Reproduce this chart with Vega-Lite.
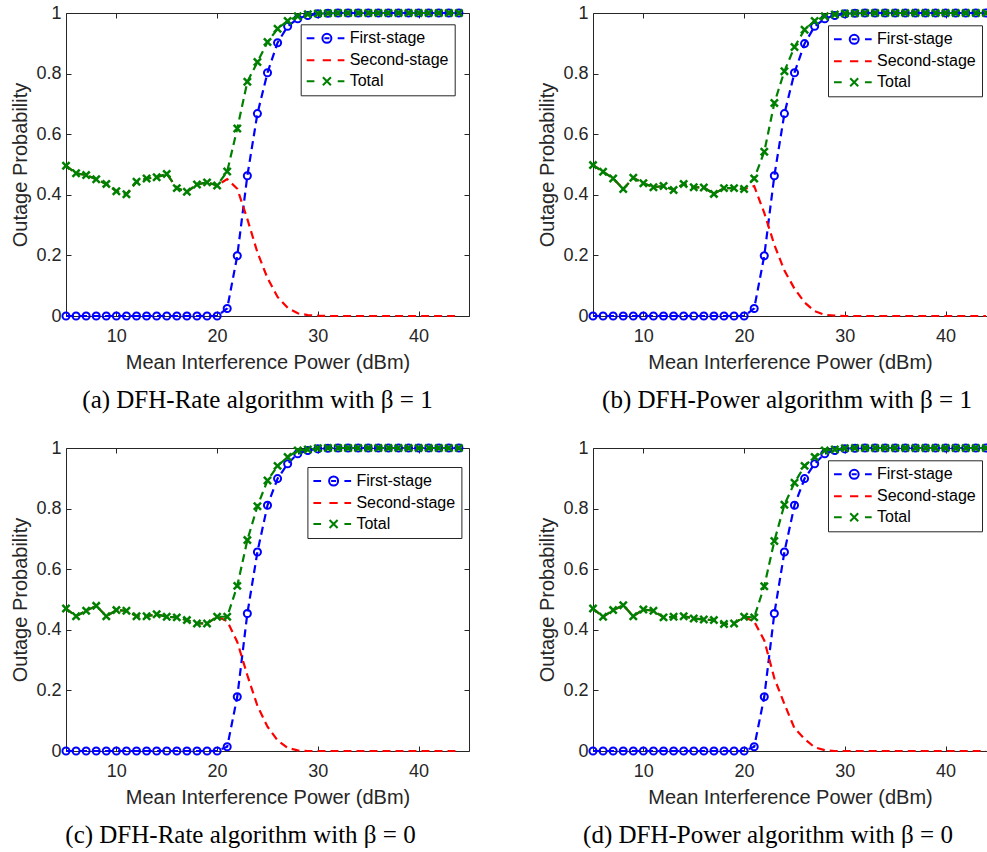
{
  "$schema": "https://vega.github.io/schema/vega-lite/v6.json",
  "padding": {"left": 10, "top": 4, "right": 0, "bottom": 0},
  "background": "white",
  "data": {"values": [
    {"p":"a","x":5,"First-stage":0,"Second-stage":0.496,"Total":0.496},
    {"p":"a","x":6,"First-stage":0,"Second-stage":0.471,"Total":0.471},
    {"p":"a","x":7,"First-stage":0,"Second-stage":0.465,"Total":0.465},
    {"p":"a","x":8,"First-stage":0,"Second-stage":0.451,"Total":0.451},
    {"p":"a","x":9,"First-stage":0,"Second-stage":0.436,"Total":0.436},
    {"p":"a","x":10,"First-stage":0,"Second-stage":0.412,"Total":0.412},
    {"p":"a","x":11,"First-stage":0,"Second-stage":0.402,"Total":0.402},
    {"p":"a","x":12,"First-stage":0,"Second-stage":0.443,"Total":0.443},
    {"p":"a","x":13,"First-stage":0,"Second-stage":0.454,"Total":0.454},
    {"p":"a","x":14,"First-stage":0,"Second-stage":0.458,"Total":0.458},
    {"p":"a","x":15,"First-stage":0,"Second-stage":0.469,"Total":0.469},
    {"p":"a","x":16,"First-stage":0,"Second-stage":0.422,"Total":0.422},
    {"p":"a","x":17,"First-stage":0,"Second-stage":0.41,"Total":0.41},
    {"p":"a","x":18,"First-stage":0,"Second-stage":0.434,"Total":0.434},
    {"p":"a","x":19,"First-stage":0,"Second-stage":0.441,"Total":0.441},
    {"p":"a","x":20,"First-stage":0,"Second-stage":0.431,"Total":0.431},
    {"p":"a","x":21,"First-stage":0.025,"Second-stage":0.452,"Total":0.477},
    {"p":"a","x":22,"First-stage":0.199,"Second-stage":0.42,"Total":0.619},
    {"p":"a","x":23,"First-stage":0.463,"Second-stage":0.32,"Total":0.773},
    {"p":"a","x":24,"First-stage":0.668,"Second-stage":0.21,"Total":0.838},
    {"p":"a","x":25,"First-stage":0.803,"Second-stage":0.125,"Total":0.904},
    {"p":"a","x":26,"First-stage":0.902,"Second-stage":0.063,"Total":0.948},
    {"p":"a","x":27,"First-stage":0.956,"Second-stage":0.027,"Total":0.974},
    {"p":"a","x":28,"First-stage":0.981,"Second-stage":0.009,"Total":0.989},
    {"p":"a","x":29,"First-stage":0.992,"Second-stage":0.003,"Total":0.996},
    {"p":"a","x":30,"First-stage":0.997,"Second-stage":0.001,"Total":0.998},
    {"p":"a","x":31,"First-stage":0.999,"Second-stage":0,"Total":0.999},
    {"p":"a","x":32,"First-stage":1,"Second-stage":0,"Total":1},
    {"p":"a","x":33,"First-stage":1,"Second-stage":0,"Total":1},
    {"p":"a","x":34,"First-stage":1,"Second-stage":0,"Total":1},
    {"p":"a","x":35,"First-stage":1,"Second-stage":0,"Total":1},
    {"p":"a","x":36,"First-stage":1,"Second-stage":0,"Total":1},
    {"p":"a","x":37,"First-stage":1,"Second-stage":0,"Total":1},
    {"p":"a","x":38,"First-stage":1,"Second-stage":0,"Total":1},
    {"p":"a","x":39,"First-stage":1,"Second-stage":0,"Total":1},
    {"p":"a","x":40,"First-stage":1,"Second-stage":0,"Total":1},
    {"p":"a","x":41,"First-stage":1,"Second-stage":0,"Total":1},
    {"p":"a","x":42,"First-stage":1,"Second-stage":0,"Total":1},
    {"p":"a","x":43,"First-stage":1,"Second-stage":0,"Total":1},
    {"p":"a","x":44,"First-stage":1,"Second-stage":0,"Total":1},
    {"p":"b","x":5,"First-stage":0,"Second-stage":0.498,"Total":0.498},
    {"p":"b","x":6,"First-stage":0,"Second-stage":0.476,"Total":0.476},
    {"p":"b","x":7,"First-stage":0,"Second-stage":0.454,"Total":0.454},
    {"p":"b","x":8,"First-stage":0,"Second-stage":0.419,"Total":0.419},
    {"p":"b","x":9,"First-stage":0,"Second-stage":0.456,"Total":0.456},
    {"p":"b","x":10,"First-stage":0,"Second-stage":0.438,"Total":0.438},
    {"p":"b","x":11,"First-stage":0,"Second-stage":0.425,"Total":0.425},
    {"p":"b","x":12,"First-stage":0,"Second-stage":0.429,"Total":0.429},
    {"p":"b","x":13,"First-stage":0,"Second-stage":0.416,"Total":0.416},
    {"p":"b","x":14,"First-stage":0,"Second-stage":0.436,"Total":0.436},
    {"p":"b","x":15,"First-stage":0,"Second-stage":0.425,"Total":0.425},
    {"p":"b","x":16,"First-stage":0,"Second-stage":0.424,"Total":0.424},
    {"p":"b","x":17,"First-stage":0,"Second-stage":0.403,"Total":0.403},
    {"p":"b","x":18,"First-stage":0,"Second-stage":0.422,"Total":0.422},
    {"p":"b","x":19,"First-stage":0,"Second-stage":0.422,"Total":0.422},
    {"p":"b","x":20,"First-stage":0,"Second-stage":0.419,"Total":0.419},
    {"p":"b","x":21,"First-stage":0.025,"Second-stage":0.429,"Total":0.454},
    {"p":"b","x":22,"First-stage":0.199,"Second-stage":0.34,"Total":0.542},
    {"p":"b","x":23,"First-stage":0.463,"Second-stage":0.235,"Total":0.703},
    {"p":"b","x":24,"First-stage":0.668,"Second-stage":0.15,"Total":0.808},
    {"p":"b","x":25,"First-stage":0.803,"Second-stage":0.09,"Total":0.888},
    {"p":"b","x":26,"First-stage":0.899,"Second-stage":0.045,"Total":0.945},
    {"p":"b","x":27,"First-stage":0.956,"Second-stage":0.016,"Total":0.974},
    {"p":"b","x":28,"First-stage":0.981,"Second-stage":0.004,"Total":0.989},
    {"p":"b","x":29,"First-stage":0.992,"Second-stage":0.001,"Total":0.995},
    {"p":"b","x":30,"First-stage":0.997,"Second-stage":0,"Total":0.998},
    {"p":"b","x":31,"First-stage":0.999,"Second-stage":0,"Total":0.999},
    {"p":"b","x":32,"First-stage":1,"Second-stage":0,"Total":1},
    {"p":"b","x":33,"First-stage":1,"Second-stage":0,"Total":1},
    {"p":"b","x":34,"First-stage":1,"Second-stage":0,"Total":1},
    {"p":"b","x":35,"First-stage":1,"Second-stage":0,"Total":1},
    {"p":"b","x":36,"First-stage":1,"Second-stage":0,"Total":1},
    {"p":"b","x":37,"First-stage":1,"Second-stage":0,"Total":1},
    {"p":"b","x":38,"First-stage":1,"Second-stage":0,"Total":1},
    {"p":"b","x":39,"First-stage":1,"Second-stage":0,"Total":1},
    {"p":"b","x":40,"First-stage":1,"Second-stage":0,"Total":1},
    {"p":"b","x":41,"First-stage":1,"Second-stage":0,"Total":1},
    {"p":"b","x":42,"First-stage":1,"Second-stage":0,"Total":1},
    {"p":"b","x":43,"First-stage":1,"Second-stage":0,"Total":1},
    {"p":"b","x":44,"First-stage":1,"Second-stage":0,"Total":1},
    {"p":"c","x":5,"First-stage":0,"Second-stage":0.47,"Total":0.47},
    {"p":"c","x":6,"First-stage":0,"Second-stage":0.445,"Total":0.445},
    {"p":"c","x":7,"First-stage":0,"Second-stage":0.463,"Total":0.463},
    {"p":"c","x":8,"First-stage":0,"Second-stage":0.479,"Total":0.479},
    {"p":"c","x":9,"First-stage":0,"Second-stage":0.445,"Total":0.445},
    {"p":"c","x":10,"First-stage":0,"Second-stage":0.465,"Total":0.465},
    {"p":"c","x":11,"First-stage":0,"Second-stage":0.463,"Total":0.463},
    {"p":"c","x":12,"First-stage":0,"Second-stage":0.445,"Total":0.445},
    {"p":"c","x":13,"First-stage":0,"Second-stage":0.445,"Total":0.445},
    {"p":"c","x":14,"First-stage":0,"Second-stage":0.451,"Total":0.451},
    {"p":"c","x":15,"First-stage":0,"Second-stage":0.443,"Total":0.443},
    {"p":"c","x":16,"First-stage":0,"Second-stage":0.441,"Total":0.441},
    {"p":"c","x":17,"First-stage":0,"Second-stage":0.432,"Total":0.432},
    {"p":"c","x":18,"First-stage":0,"Second-stage":0.421,"Total":0.421},
    {"p":"c","x":19,"First-stage":0,"Second-stage":0.421,"Total":0.421},
    {"p":"c","x":20,"First-stage":0,"Second-stage":0.443,"Total":0.443},
    {"p":"c","x":21,"First-stage":0.014,"Second-stage":0.429,"Total":0.443},
    {"p":"c","x":22,"First-stage":0.179,"Second-stage":0.36,"Total":0.545},
    {"p":"c","x":23,"First-stage":0.454,"Second-stage":0.25,"Total":0.696},
    {"p":"c","x":24,"First-stage":0.657,"Second-stage":0.149,"Total":0.808},
    {"p":"c","x":25,"First-stage":0.811,"Second-stage":0.08,"Total":0.893},
    {"p":"c","x":26,"First-stage":0.899,"Second-stage":0.035,"Total":0.941},
    {"p":"c","x":27,"First-stage":0.948,"Second-stage":0.01,"Total":0.97},
    {"p":"c","x":28,"First-stage":0.981,"Second-stage":0.002,"Total":0.992},
    {"p":"c","x":29,"First-stage":0.992,"Second-stage":0,"Total":0.995},
    {"p":"c","x":30,"First-stage":0.997,"Second-stage":0,"Total":0.999},
    {"p":"c","x":31,"First-stage":0.999,"Second-stage":0,"Total":1},
    {"p":"c","x":32,"First-stage":1,"Second-stage":0,"Total":1},
    {"p":"c","x":33,"First-stage":1,"Second-stage":0,"Total":1},
    {"p":"c","x":34,"First-stage":1,"Second-stage":0,"Total":1},
    {"p":"c","x":35,"First-stage":1,"Second-stage":0,"Total":1},
    {"p":"c","x":36,"First-stage":1,"Second-stage":0,"Total":1},
    {"p":"c","x":37,"First-stage":1,"Second-stage":0,"Total":1},
    {"p":"c","x":38,"First-stage":1,"Second-stage":0,"Total":1},
    {"p":"c","x":39,"First-stage":1,"Second-stage":0,"Total":1},
    {"p":"c","x":40,"First-stage":1,"Second-stage":0,"Total":1},
    {"p":"c","x":41,"First-stage":1,"Second-stage":0,"Total":1},
    {"p":"c","x":42,"First-stage":1,"Second-stage":0,"Total":1},
    {"p":"c","x":43,"First-stage":1,"Second-stage":0,"Total":1},
    {"p":"c","x":44,"First-stage":1,"Second-stage":0,"Total":1},
    {"p":"d","x":5,"First-stage":0,"Second-stage":0.47,"Total":0.47},
    {"p":"d","x":6,"First-stage":0,"Second-stage":0.443,"Total":0.443},
    {"p":"d","x":7,"First-stage":0,"Second-stage":0.465,"Total":0.465},
    {"p":"d","x":8,"First-stage":0,"Second-stage":0.481,"Total":0.481},
    {"p":"d","x":9,"First-stage":0,"Second-stage":0.445,"Total":0.445},
    {"p":"d","x":10,"First-stage":0,"Second-stage":0.467,"Total":0.467},
    {"p":"d","x":11,"First-stage":0,"Second-stage":0.463,"Total":0.463},
    {"p":"d","x":12,"First-stage":0,"Second-stage":0.441,"Total":0.441},
    {"p":"d","x":13,"First-stage":0,"Second-stage":0.443,"Total":0.443},
    {"p":"d","x":14,"First-stage":0,"Second-stage":0.445,"Total":0.445},
    {"p":"d","x":15,"First-stage":0,"Second-stage":0.437,"Total":0.437},
    {"p":"d","x":16,"First-stage":0,"Second-stage":0.434,"Total":0.434},
    {"p":"d","x":17,"First-stage":0,"Second-stage":0.432,"Total":0.432},
    {"p":"d","x":18,"First-stage":0,"Second-stage":0.419,"Total":0.419},
    {"p":"d","x":19,"First-stage":0,"Second-stage":0.421,"Total":0.421},
    {"p":"d","x":20,"First-stage":0,"Second-stage":0.443,"Total":0.443},
    {"p":"d","x":21,"First-stage":0.014,"Second-stage":0.427,"Total":0.441},
    {"p":"d","x":22,"First-stage":0.179,"Second-stage":0.365,"Total":0.544},
    {"p":"d","x":23,"First-stage":0.454,"Second-stage":0.24,"Total":0.693},
    {"p":"d","x":24,"First-stage":0.657,"Second-stage":0.155,"Total":0.813},
    {"p":"d","x":25,"First-stage":0.811,"Second-stage":0.075,"Total":0.885},
    {"p":"d","x":26,"First-stage":0.899,"Second-stage":0.04,"Total":0.941},
    {"p":"d","x":27,"First-stage":0.948,"Second-stage":0.012,"Total":0.97},
    {"p":"d","x":28,"First-stage":0.981,"Second-stage":0.003,"Total":0.992},
    {"p":"d","x":29,"First-stage":0.992,"Second-stage":0,"Total":0.995},
    {"p":"d","x":30,"First-stage":0.997,"Second-stage":0,"Total":0.999},
    {"p":"d","x":31,"First-stage":0.999,"Second-stage":0,"Total":1},
    {"p":"d","x":32,"First-stage":1,"Second-stage":0,"Total":1},
    {"p":"d","x":33,"First-stage":1,"Second-stage":0,"Total":1},
    {"p":"d","x":34,"First-stage":1,"Second-stage":0,"Total":1},
    {"p":"d","x":35,"First-stage":1,"Second-stage":0,"Total":1},
    {"p":"d","x":36,"First-stage":1,"Second-stage":0,"Total":1},
    {"p":"d","x":37,"First-stage":1,"Second-stage":0,"Total":1},
    {"p":"d","x":38,"First-stage":1,"Second-stage":0,"Total":1},
    {"p":"d","x":39,"First-stage":1,"Second-stage":0,"Total":1},
    {"p":"d","x":40,"First-stage":1,"Second-stage":0,"Total":1},
    {"p":"d","x":41,"First-stage":1,"Second-stage":0,"Total":1},
    {"p":"d","x":42,"First-stage":1,"Second-stage":0,"Total":1},
    {"p":"d","x":43,"First-stage":1,"Second-stage":0,"Total":1},
    {"p":"d","x":44,"First-stage":1,"Second-stage":0,"Total":1}
  ]},
  "columns": 2,
  "spacing": {"row": 132, "column": 124},
  "bounds": "flush",
  "resolve": {"scale": {"color": "independent", "shape": "independent"}, "legend": {"color": "independent", "shape": "independent"}},
  "concat": [
    {
      "width": 403, "height": 303,
      "title": {"text": "(a) DFH-Rate algorithm with β = 1", "orient": "bottom", "anchor": "middle", "frame": "group", "font": "Liberation Serif", "fontSize": 25, "fontWeight": "normal", "color": "#000000", "offset": 16, "dx": -10},
      "transform": [{"filter": "datum.p === 'a'"}, {"fold": ["First-stage", "Second-stage", "Total"], "as": ["series", "v"]}],
      "resolve": {"axis": {"x": "independent", "y": "independent"}},
      "layer": [
        {"transform": [{"filter": "datum.series === 'First-stage'"}], "mark": {"type": "line", "strokeDash": [8, 5], "strokeWidth": 2.2, "color": "#0000ff"},
         "encoding": {
           "x": {"field": "x", "type": "quantitative", "scale": {"domain": [5, 45], "nice": false, "zero": false}, "axis": {"orient": "bottom", "values": [10, 20, 30, 40], "title": "Mean Interference Power (dBm)", "labelPadding": 16, "titlePadding": 7, "labelFlush": false}},
           "y": {"field": "v", "type": "quantitative", "scale": {"domain": [0, 1], "nice": false, "zero": false}, "axis": {"orient": "left", "values": [0, 0.2, 0.4, 0.6, 0.8, 1], "format": "~g", "title": "Outage Probability", "labelPadding": 10, "titlePadding": 5, "labelFlush": false}}}},
        {"transform": [{"filter": "datum.series === 'First-stage'"}], "mark": {"type": "point", "shape": "circle", "filled": false, "size": 50, "strokeWidth": 2, "color": "#0000ff", "opacity": 1},
         "encoding": {"x": {"field": "x", "type": "quantitative", "axis": null}, "y": {"field": "v", "type": "quantitative", "axis": null}}},
        {"transform": [{"filter": "datum.series === 'Second-stage'"}], "mark": {"type": "line", "strokeDash": [8, 5], "strokeWidth": 2.2, "color": "#ff0000"},
         "encoding": {"x": {"field": "x", "type": "quantitative", "axis": null}, "y": {"field": "v", "type": "quantitative", "axis": null}}},
        {"transform": [{"filter": "datum.series === 'Total'"}], "mark": {"type": "line", "strokeDash": [8, 5], "strokeWidth": 2.2, "color": "#008000"},
         "encoding": {"x": {"field": "x", "type": "quantitative", "axis": null}, "y": {"field": "v", "type": "quantitative", "axis": null}}},
        {"transform": [{"filter": "datum.series === 'Total'"}], "mark": {"type": "point", "shape": "M-1,-1L1,1M-1,1L1,-1", "filled": false, "size": 52, "strokeWidth": 2.5, "color": "#008000", "opacity": 1},
         "encoding": {"x": {"field": "x", "type": "quantitative", "axis": null}, "y": {"field": "v", "type": "quantitative", "axis": null}}},
        {"transform": [{"filter": "false"}], "mark": {"type": "point", "filled": false, "strokeWidth": 2, "opacity": 1},
         "encoding": {
           "x": {"field": "x", "type": "quantitative", "axis": {"orient": "top", "values": [10, 20, 30, 40], "labels": false, "title": null}},
           "y": {"field": "v", "type": "quantitative", "axis": {"orient": "right", "values": [0, 0.2, 0.4, 0.6, 0.8, 1], "labels": false, "title": null}},
           "color": {"field": "series", "type": "nominal", "scale": {"domain": ["First-stage", "Second-stage", "Total"], "range": ["#0000ff", "#ff0000", "#008000"]}, "legend": {"title": null, "legendX": 234.7, "legendY": 11.3}},
           "shape": {"field": "series", "type": "nominal", "scale": {"domain": ["First-stage", "Second-stage", "Total"], "range": ["M-1.6,0L-0.06,0M4.6,0L5.94,0M3.34,0A0.9,0.9,0,1,1,1.54,0A0.9,0.9,0,1,1,3.34,0M1.94,0L2.94,0", "M-1.6,0L-0.06,0M1.6,0L3.26,0M4.6,0L5.94,0", "M-1.6,0L-0.06,0M4.6,0L5.94,0M1.64,-0.8L3.24,0.8M1.64,0.8L3.24,-0.8"]}, "legend": {"title": null, "legendX": 234.7, "legendY": 11.3}}}}
      ]
    },
    {
      "width": 394, "height": 303,
      "title": {"text": "(b) DFH-Power algorithm with β = 1", "orient": "bottom", "anchor": "middle", "frame": "group", "font": "Liberation Serif", "fontSize": 25, "fontWeight": "normal", "color": "#000000", "offset": 16, "dx": -3},
      "transform": [{"filter": "datum.p === 'b'"}, {"fold": ["First-stage", "Second-stage", "Total"], "as": ["series", "v"]}],
      "resolve": {"axis": {"x": "independent", "y": "independent"}},
      "layer": [
        {"transform": [{"filter": "datum.series === 'First-stage'"}], "mark": {"type": "line", "strokeDash": [8, 5], "strokeWidth": 2.2, "color": "#0000ff"},
         "encoding": {
           "x": {"field": "x", "type": "quantitative", "scale": {"domain": [5, 44.107], "nice": false, "zero": false}, "axis": {"orient": "bottom", "values": [10, 20, 30, 40], "title": "Mean Interference Power (dBm)", "labelPadding": 16, "titlePadding": 7, "labelFlush": false}},
           "y": {"field": "v", "type": "quantitative", "scale": {"domain": [0, 1], "nice": false, "zero": false}, "axis": {"orient": "left", "values": [0, 0.2, 0.4, 0.6, 0.8, 1], "format": "~g", "title": "Outage Probability", "labelPadding": 10, "titlePadding": 5, "labelFlush": false}}}},
        {"transform": [{"filter": "datum.series === 'First-stage'"}], "mark": {"type": "point", "shape": "circle", "filled": false, "size": 50, "strokeWidth": 2, "color": "#0000ff", "opacity": 1},
         "encoding": {"x": {"field": "x", "type": "quantitative", "axis": null}, "y": {"field": "v", "type": "quantitative", "axis": null}}},
        {"transform": [{"filter": "datum.series === 'Second-stage'"}], "mark": {"type": "line", "strokeDash": [8, 5], "strokeWidth": 2.2, "color": "#ff0000"},
         "encoding": {"x": {"field": "x", "type": "quantitative", "axis": null}, "y": {"field": "v", "type": "quantitative", "axis": null}}},
        {"transform": [{"filter": "datum.series === 'Total'"}], "mark": {"type": "line", "strokeDash": [8, 5], "strokeWidth": 2.2, "color": "#008000"},
         "encoding": {"x": {"field": "x", "type": "quantitative", "axis": null}, "y": {"field": "v", "type": "quantitative", "axis": null}}},
        {"transform": [{"filter": "datum.series === 'Total'"}], "mark": {"type": "point", "shape": "M-1,-1L1,1M-1,1L1,-1", "filled": false, "size": 52, "strokeWidth": 2.5, "color": "#008000", "opacity": 1},
         "encoding": {"x": {"field": "x", "type": "quantitative", "axis": null}, "y": {"field": "v", "type": "quantitative", "axis": null}}},
        {"transform": [{"filter": "false"}], "mark": {"type": "point", "filled": false, "strokeWidth": 2, "opacity": 1},
         "encoding": {
           "x": {"field": "x", "type": "quantitative", "axis": {"orient": "top", "values": [10, 20, 30, 40], "labels": false, "title": null}},
           "y": {"field": "v", "type": "quantitative", "axis": null},
           "color": {"field": "series", "type": "nominal", "scale": {"domain": ["First-stage", "Second-stage", "Total"], "range": ["#0000ff", "#ff0000", "#008000"]}, "legend": {"title": null, "legendX": 235, "legendY": 12.3}},
           "shape": {"field": "series", "type": "nominal", "scale": {"domain": ["First-stage", "Second-stage", "Total"], "range": ["M-1.6,0L-0.06,0M4.6,0L5.94,0M3.34,0A0.9,0.9,0,1,1,1.54,0A0.9,0.9,0,1,1,3.34,0M1.94,0L2.94,0", "M-1.6,0L-0.06,0M1.6,0L3.26,0M4.6,0L5.94,0", "M-1.6,0L-0.06,0M4.6,0L5.94,0M1.64,-0.8L3.24,0.8M1.64,0.8L3.24,-0.8"]}, "legend": {"title": null, "legendX": 235, "legendY": 12.3}}}}
      ]
    },
    {
      "width": 403, "height": 303,
      "title": {"text": "(c) DFH-Rate algorithm with β = 0", "orient": "bottom", "anchor": "middle", "frame": "group", "font": "Liberation Serif", "fontSize": 25, "fontWeight": "normal", "color": "#000000", "offset": 16, "dx": -27},
      "transform": [{"filter": "datum.p === 'c'"}, {"fold": ["First-stage", "Second-stage", "Total"], "as": ["series", "v"]}],
      "resolve": {"axis": {"x": "independent", "y": "independent"}},
      "layer": [
        {"transform": [{"filter": "datum.series === 'First-stage'"}], "mark": {"type": "line", "strokeDash": [8, 5], "strokeWidth": 2.2, "color": "#0000ff"},
         "encoding": {
           "x": {"field": "x", "type": "quantitative", "scale": {"domain": [5, 45], "nice": false, "zero": false}, "axis": {"orient": "bottom", "values": [10, 20, 30, 40], "title": "Mean Interference Power (dBm)", "labelPadding": 16, "titlePadding": 7, "labelFlush": false}},
           "y": {"field": "v", "type": "quantitative", "scale": {"domain": [0, 1], "nice": false, "zero": false}, "axis": {"orient": "left", "values": [0, 0.2, 0.4, 0.6, 0.8, 1], "format": "~g", "title": "Outage Probability", "labelPadding": 10, "titlePadding": 5, "labelFlush": false}}}},
        {"transform": [{"filter": "datum.series === 'First-stage'"}], "mark": {"type": "point", "shape": "circle", "filled": false, "size": 50, "strokeWidth": 2, "color": "#0000ff", "opacity": 1},
         "encoding": {"x": {"field": "x", "type": "quantitative", "axis": null}, "y": {"field": "v", "type": "quantitative", "axis": null}}},
        {"transform": [{"filter": "datum.series === 'Second-stage'"}], "mark": {"type": "line", "strokeDash": [8, 5], "strokeWidth": 2.2, "color": "#ff0000"},
         "encoding": {"x": {"field": "x", "type": "quantitative", "axis": null}, "y": {"field": "v", "type": "quantitative", "axis": null}}},
        {"transform": [{"filter": "datum.series === 'Total'"}], "mark": {"type": "line", "strokeDash": [8, 5], "strokeWidth": 2.2, "color": "#008000"},
         "encoding": {"x": {"field": "x", "type": "quantitative", "axis": null}, "y": {"field": "v", "type": "quantitative", "axis": null}}},
        {"transform": [{"filter": "datum.series === 'Total'"}], "mark": {"type": "point", "shape": "M-1,-1L1,1M-1,1L1,-1", "filled": false, "size": 52, "strokeWidth": 2.5, "color": "#008000", "opacity": 1},
         "encoding": {"x": {"field": "x", "type": "quantitative", "axis": null}, "y": {"field": "v", "type": "quantitative", "axis": null}}},
        {"transform": [{"filter": "false"}], "mark": {"type": "point", "filled": false, "strokeWidth": 2, "opacity": 1},
         "encoding": {
           "x": {"field": "x", "type": "quantitative", "axis": {"orient": "top", "values": [10, 20, 30, 40], "labels": false, "title": null}},
           "y": {"field": "v", "type": "quantitative", "axis": {"orient": "right", "values": [0, 0.2, 0.4, 0.6, 0.8, 1], "labels": false, "title": null}},
           "color": {"field": "series", "type": "nominal", "scale": {"domain": ["First-stage", "Second-stage", "Total"], "range": ["#0000ff", "#ff0000", "#008000"]}, "legend": {"title": null, "legendX": 241.4, "legendY": 19}},
           "shape": {"field": "series", "type": "nominal", "scale": {"domain": ["First-stage", "Second-stage", "Total"], "range": ["M-1.6,0L-0.06,0M4.6,0L5.94,0M3.34,0A0.9,0.9,0,1,1,1.54,0A0.9,0.9,0,1,1,3.34,0M1.94,0L2.94,0", "M-1.6,0L-0.06,0M1.6,0L3.26,0M4.6,0L5.94,0", "M-1.6,0L-0.06,0M4.6,0L5.94,0M1.64,-0.8L3.24,0.8M1.64,0.8L3.24,-0.8"]}, "legend": {"title": null, "legendX": 241.4, "legendY": 19}}}}
      ]
    },
    {
      "width": 394, "height": 303,
      "title": {"text": "(d) DFH-Power algorithm with β = 0", "orient": "bottom", "anchor": "middle", "frame": "group", "font": "Liberation Serif", "fontSize": 25, "fontWeight": "normal", "color": "#000000", "offset": 16, "dx": -22},
      "transform": [{"filter": "datum.p === 'd'"}, {"fold": ["First-stage", "Second-stage", "Total"], "as": ["series", "v"]}],
      "resolve": {"axis": {"x": "independent", "y": "independent"}},
      "layer": [
        {"transform": [{"filter": "datum.series === 'First-stage'"}], "mark": {"type": "line", "strokeDash": [8, 5], "strokeWidth": 2.2, "color": "#0000ff"},
         "encoding": {
           "x": {"field": "x", "type": "quantitative", "scale": {"domain": [5, 44.107], "nice": false, "zero": false}, "axis": {"orient": "bottom", "values": [10, 20, 30, 40], "title": "Mean Interference Power (dBm)", "labelPadding": 16, "titlePadding": 7, "labelFlush": false}},
           "y": {"field": "v", "type": "quantitative", "scale": {"domain": [0, 1], "nice": false, "zero": false}, "axis": {"orient": "left", "values": [0, 0.2, 0.4, 0.6, 0.8, 1], "format": "~g", "title": "Outage Probability", "labelPadding": 10, "titlePadding": 5, "labelFlush": false}}}},
        {"transform": [{"filter": "datum.series === 'First-stage'"}], "mark": {"type": "point", "shape": "circle", "filled": false, "size": 50, "strokeWidth": 2, "color": "#0000ff", "opacity": 1},
         "encoding": {"x": {"field": "x", "type": "quantitative", "axis": null}, "y": {"field": "v", "type": "quantitative", "axis": null}}},
        {"transform": [{"filter": "datum.series === 'Second-stage'"}], "mark": {"type": "line", "strokeDash": [8, 5], "strokeWidth": 2.2, "color": "#ff0000"},
         "encoding": {"x": {"field": "x", "type": "quantitative", "axis": null}, "y": {"field": "v", "type": "quantitative", "axis": null}}},
        {"transform": [{"filter": "datum.series === 'Total'"}], "mark": {"type": "line", "strokeDash": [8, 5], "strokeWidth": 2.2, "color": "#008000"},
         "encoding": {"x": {"field": "x", "type": "quantitative", "axis": null}, "y": {"field": "v", "type": "quantitative", "axis": null}}},
        {"transform": [{"filter": "datum.series === 'Total'"}], "mark": {"type": "point", "shape": "M-1,-1L1,1M-1,1L1,-1", "filled": false, "size": 52, "strokeWidth": 2.5, "color": "#008000", "opacity": 1},
         "encoding": {"x": {"field": "x", "type": "quantitative", "axis": null}, "y": {"field": "v", "type": "quantitative", "axis": null}}},
        {"transform": [{"filter": "false"}], "mark": {"type": "point", "filled": false, "strokeWidth": 2, "opacity": 1},
         "encoding": {
           "x": {"field": "x", "type": "quantitative", "axis": {"orient": "top", "values": [10, 20, 30, 40], "labels": false, "title": null}},
           "y": {"field": "v", "type": "quantitative", "axis": null},
           "color": {"field": "series", "type": "nominal", "scale": {"domain": ["First-stage", "Second-stage", "Total"], "range": ["#0000ff", "#ff0000", "#008000"]}, "legend": {"title": null, "legendX": 235, "legendY": 12.3}},
           "shape": {"field": "series", "type": "nominal", "scale": {"domain": ["First-stage", "Second-stage", "Total"], "range": ["M-1.6,0L-0.06,0M4.6,0L5.94,0M3.34,0A0.9,0.9,0,1,1,1.54,0A0.9,0.9,0,1,1,3.34,0M1.94,0L2.94,0", "M-1.6,0L-0.06,0M1.6,0L3.26,0M4.6,0L5.94,0", "M-1.6,0L-0.06,0M4.6,0L5.94,0M1.64,-0.8L3.24,0.8M1.64,0.8L3.24,-0.8"]}, "legend": {"title": null, "legendX": 235, "legendY": 12.3}}}}
      ]
    }
  ],
  "config": {
    "view": {"stroke": null},
    "axis": {"grid": false, "domainColor": "#262626", "tickColor": "#262626", "labelColor": "#262626", "titleColor": "#262626", "labelFont": "Liberation Sans", "titleFont": "Liberation Sans", "labelFontSize": 18, "titleFontSize": 20, "titleFontWeight": "normal", "tickSize": -5, "tickWidth": 1, "domainWidth": 1, "labelOverlap": false},
    "legend": {"orient": "none", "padding": 6, "rowPadding": 5, "symbolSize": 100, "symbolStrokeWidth": 2, "symbolOffset": 0, "labelOffset": 27, "labelFont": "Liberation Sans", "labelFontSize": 16, "labelColor": "#000000", "strokeColor": "#262626", "fillColor": "#ffffff", "strokeWidth": 1}
  }
}
